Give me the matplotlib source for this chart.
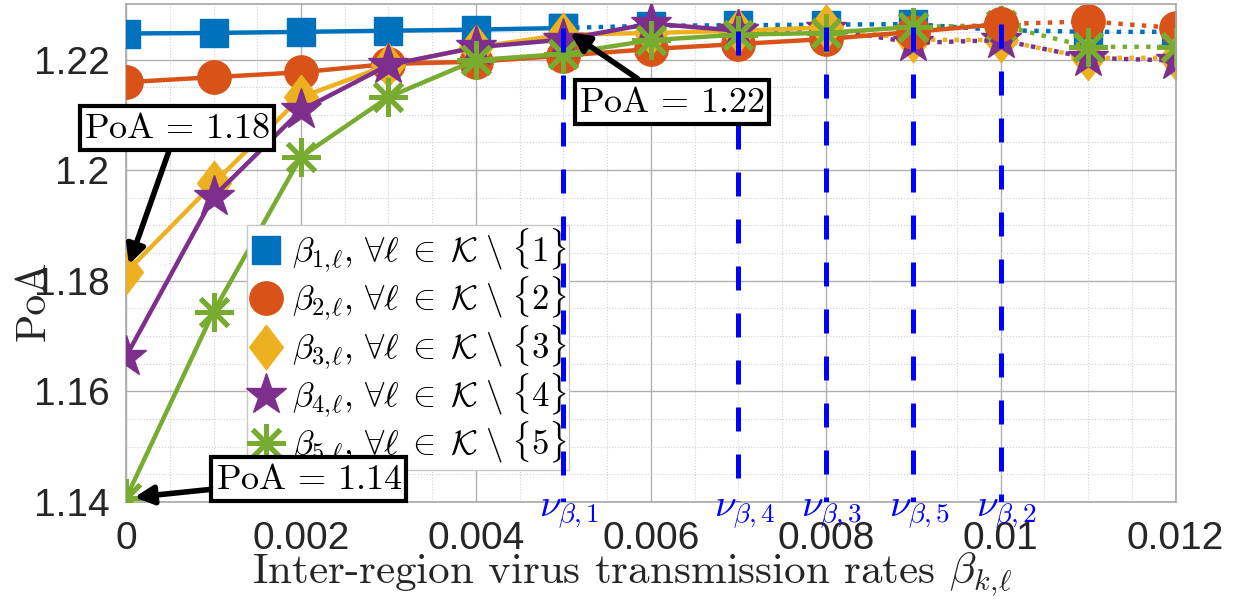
import matplotlib.pyplot as plt
from matplotlib.lines import Line2D
from matplotlib.ticker import AutoMinorLocator

plt.rcParams['mathtext.fontset'] = 'cm'
plt.rcParams['font.family'] = ['Liberation Sans', 'DejaVu Sans']

beta = [0, 0.001, 0.002, 0.003, 0.004, 0.005, 0.006,
        0.007, 0.008, 0.009, 0.01, 0.011, 0.012]

poa_1 = [1.2247, 1.2248, 1.2250, 1.2252, 1.2254, 1.2257, 1.2261,
         1.2262, 1.2263, 1.2264, 1.2253, 1.2250, 1.2250]
poa_2 = [1.2159, 1.2168, 1.2177, 1.2192, 1.2196, 1.2207, 1.2219,
         1.2228, 1.2237, 1.2250, 1.2264, 1.2269, 1.2257]
poa_3 = [1.1815, 1.1976, 1.2132, 1.2190, 1.2222, 1.2245, 1.2248,
         1.2252, 1.2258, 1.2236, 1.2235, 1.2203, 1.2203]
poa_4 = [1.1663, 1.1952, 1.2108, 1.2190, 1.2222, 1.2236, 1.2265,
         1.2252, 1.2256, 1.2230, 1.2235, 1.2203, 1.2198]
poa_5 = [1.1407, 1.1744, 1.2024, 1.2132, 1.2199, 1.2210, 1.2235,
         1.2245, 1.2248, 1.2259, 1.2262, 1.2223, 1.2223]

# threshold nu_{beta,k} after which each curve is drawn dotted
nu = [0.005, 0.01, 0.008, 0.007, 0.009]
nu_names = ['1', '2', '3', '4', '5']

series = [poa_1, poa_2, poa_3, poa_4, poa_5]
colors = ['#0072BD', '#D95319', '#EDB120', '#7E2F8E', '#77AC30']
diamond = [(0, 1), (0.76, 0), (0, -1), (-0.76, 0), (0, 1)]
markers = ['s', 'o', diamond, '*', (8, 2, 0)]
msizes = [20, 24, 32, 31, 28]
mews = [1, 1, 1, 1, 3.6]
labels = [r'$\beta_{%d,\!\ell},\,\forall \ell\;\in\;\mathcal{K}\;\backslash\;\{%d\}$' % (k, k)
          for k in range(1, 6)]

fig = plt.figure(figsize=(12.48, 5.99), dpi=100)
ax = fig.add_axes([0.101, 0.162, 0.841, 0.831])

handles = []
for k in range(5):
    y = series[k]
    cut = beta.index(nu[k])
    style = dict(color=colors[k], marker=markers[k], markersize=msizes[k],
                 markeredgewidth=mews[k], lw=3.2)
    ax.plot(beta[:cut + 1], y[:cut + 1], '-', zorder=3, **style)
    ax.plot(beta[cut:], y[cut:], ':', zorder=2, **style)
    handles.append(Line2D([], [], ls='none', color=colors[k], marker=markers[k],
                          markersize=msizes[k], markeredgewidth=mews[k]))

# vertical thresholds with their labels
for k in range(5):
    x = nu[k]
    ytop = series[k][beta.index(x)]
    ax.plot([x, x], [ytop, 1.14], color='blue', lw=3.6, dashes=(4.8, 4.6),
            zorder=5, solid_capstyle='butt')
    ax.text(x + 0.00007, 1.1412, r'$\nu_{\beta,%s}$' % nu_names[k], color='blue',
            fontsize=28, ha='center', va='top', zorder=6)

ax.set_xlim(0, 0.012)
ax.set_ylim(1.14, 1.23)
ax.set_xticks([0, 0.002, 0.004, 0.006, 0.008, 0.01, 0.012])
ax.set_xticklabels(['0', '0.002', '0.004', '0.006', '0.008', '0.01', '0.012'])
ax.set_yticks([1.14, 1.16, 1.18, 1.2, 1.22])
ax.set_yticklabels(['1.14', '1.16', '1.18', '1.2', '1.22'])
ax.xaxis.set_minor_locator(AutoMinorLocator(4))
ax.yaxis.set_minor_locator(AutoMinorLocator(4))
ax.tick_params(which='both', length=0, labelsize=28, labelcolor='#262626')
ax.tick_params(axis='x', pad=14)
ax.tick_params(axis='y', pad=12)
ax.grid(which='major', color='#b0b0b0', lw=1.0)
ax.grid(which='minor', color='#d0d0d0', lw=0.8, ls=':')
ax.set_axisbelow(True)
for s in ax.spines.values():
    s.set_color('#a8a8a8')
    s.set_linewidth(1.2)

ax.set_xlabel(r'Inter-region virus transmission rates $\beta_{k,\!\ell}$',
              fontfamily='cmr10', fontsize=31, color='#262626')
ax.xaxis.set_label_coords(0.482, -0.097)
ax.set_ylabel('PoA', fontfamily='cmr10', fontsize=30, color='#262626')
ax.yaxis.set_label_coords(-0.07, 0.404)

leg = ax.legend(handles, labels, loc='upper left', bbox_to_anchor=(0.115, 0.556),
                fontsize=25, frameon=True, fancybox=False, framealpha=1,
                edgecolor='#c8c8c8', handlelength=1.0, handletextpad=0.25,
                borderpad=0.05, labelspacing=0.0, borderaxespad=0)
leg.set_zorder(4)
leg.get_frame().set_linewidth(1.0)

box = dict(boxstyle='square,pad=0.12', fc='white', ec='black', lw=3)
arrow = dict(arrowstyle='-|>', color='black', lw=4, mutation_scale=28,
             shrinkA=0, shrinkB=6)
texts = [r'$\mathrm{PoA}\,=\,1.18$', r'$\mathrm{PoA}\,=\,1.22$', r'$\mathrm{PoA}\,=\,1.14$']
ax.annotate(texts[0], xy=(0, poa_3[0]), xytext=(0.000583, 1.2076),
            fontsize=26, ha='center', va='center', bbox=box, arrowprops=arrow,
            zorder=7)
ax.annotate(texts[1], xy=(nu[0], poa_1[beta.index(nu[0])]),
            xytext=(0.00624, 1.2123),
            fontsize=26, ha='center', va='center', bbox=box, arrowprops=arrow,
            zorder=7)
ax.annotate(texts[2], xy=(0, poa_5[0]), xytext=(0.00209, 1.1441),
            fontsize=26, ha='center', va='center', bbox=box, arrowprops=arrow,
            zorder=7)

fig.savefig('out.png', dpi=100)
